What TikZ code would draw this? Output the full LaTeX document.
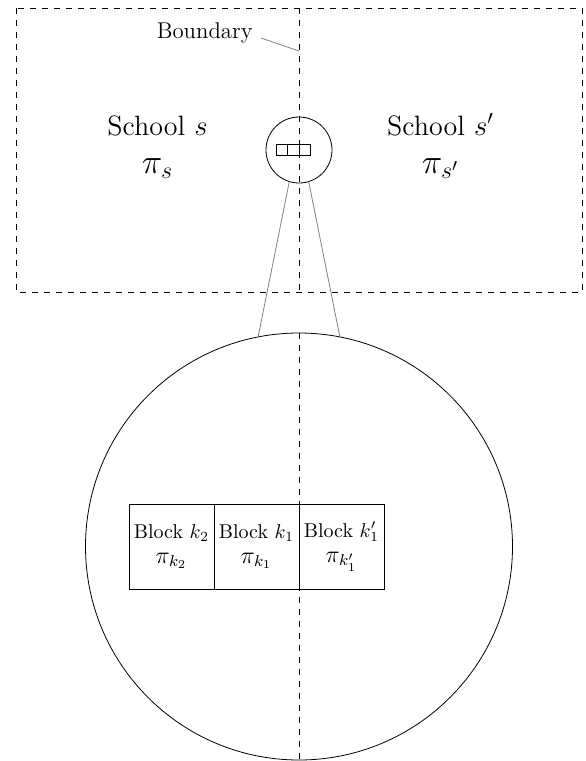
\documentclass[tikz,border=0pt]{standalone}
\usepackage{amsmath}
\begin{document}
\begin{tikzpicture}[x=0.5pt,y=-0.5pt,
  bline/.style={dashed, line width=0.45pt},
  link/.style={draw=gray, line width=0.4pt},
  bigtext/.style={font=\fontsize{14}{17}\selectfont, anchor=base, inner sep=0pt},
  pitext/.style={font=\fontsize{17.5}{20}\selectfont, anchor=base, inner sep=0pt},
  cell/.style={draw, minimum width=42.5pt, minimum height=42.5pt, inner sep=0pt, align=center, font=\fontsize{10}{12.5}\selectfont},
  scell/.style={draw, minimum width=5.65pt, minimum height=5.65pt, inner sep=0pt, line width=0.4pt},
  ring/.style={circle, draw, inner sep=0pt},
]
\newcommand{\cellpi}[1]{{\fontsize{11.5}{12.5}\selectfont$\pi_{#1}$}}
\useasboundingbox (0,0) rectangle (585,761);
% top schools region
\draw[bline] (16,8) rectangle (582,292);
\coordinate (btop) at (299,8);
\coordinate (bbot) at (299,292);
\draw[bline] (btop) -- (bbot);
\node[bigtext] (schoolL) at (157.5,135) {School $s$};
\node[pitext] (piL) at (157.5,173) {$\pi_s$};
\node[bigtext] (schoolR) at (440.5,135) {School $s'$};
\node[pitext] (piR) at (440.5,173) {$\pi_{s'}$};
% boundary label
\node[font=\fontsize{11.4}{14}\selectfont, anchor=base east, inner sep=0pt] (bnd) at (253,38) {Boundary};
\coordinate (bpt) at (299,51);
\draw[link] ([xshift=4pt]bnd.base east) -- (bpt);
% small circle
\node[ring, minimum size=33pt] (sc) at (299,150) {};
\node[scell] (s1) at (282.05,150) {};
\node[scell] (s2) at (293.35,150) {};
\node[scell] (s3) at (304.65,150) {};
% big circle
\node[ring, minimum size=213.5pt] (bc) at (299,546.5) {};
\draw[bline] (bc.north) -- (bc.south);
\node[cell] (k2) at (171.5,546.5) {Block $k_2$\\ \cellpi{k_2}};
\node[cell] (k1) at (256.5,546.5) {Block $k_1$\\ \cellpi{k_1}};
\node[cell] (k1p) at (341.5,546.5) {Block $k_1'$\\ \cellpi{k_1'}};
% zoom links
\draw[link] (sc.253) -- (bc.101);
\draw[link] (sc.287) -- (bc.79);
\end{tikzpicture}
\end{document}
